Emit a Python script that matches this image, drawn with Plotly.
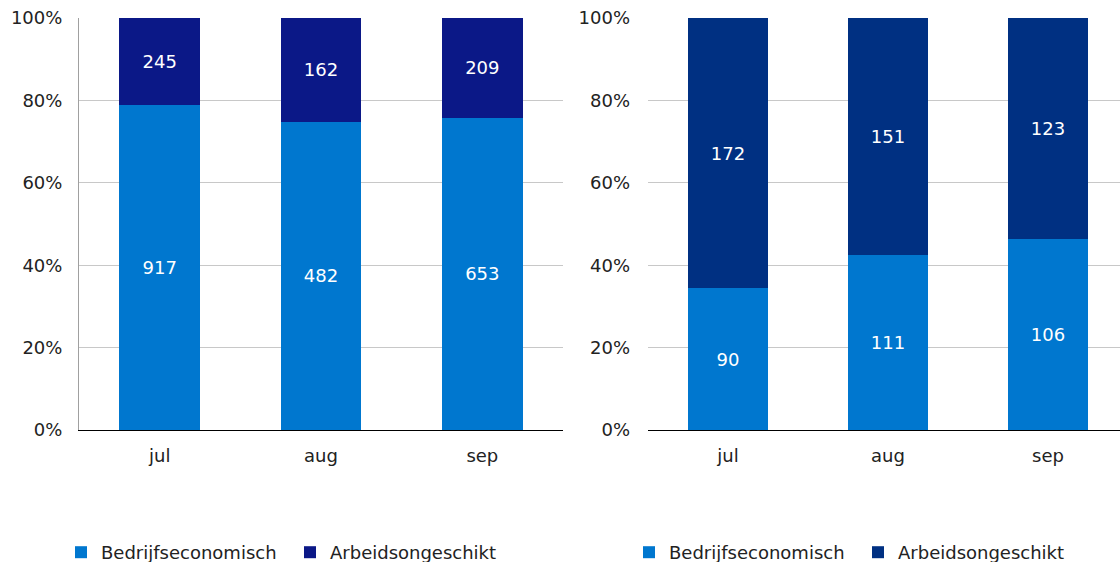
import plotly.graph_objects as go

months = ["jul", "aug", "sep"]
left_bedrijf = [917, 482, 653]
left_arbeid = [245, 162, 209]
right_bedrijf = [90, 111, 106]
right_arbeid = [172, 151, 123]
y_ticks = [0, 20, 40, 60, 80, 100]
y_ticklabels = ["0%", "20%", "40%", "60%", "80%", "100%"]

C_BED = "#0077CF"
C_ARB_L = "#0B1887"
C_ARB_R = "#003082"
FONT = "DejaVu Sans"
FS = 18

fig = go.Figure()

def add_pair(bed, arb, xa, ya, arb_color, legend):
    fig.add_trace(go.Bar(x=months, y=bed, name="Bedrijfseconomisch", marker_color=C_BED,
                         text=bed, textposition="inside", insidetextanchor="middle",
                         textfont=dict(color="white", size=FS, family=FONT),
                         xaxis=xa, yaxis=ya, legend=legend, width=0.5,
                         marker_line_width=0))
    fig.add_trace(go.Bar(x=months, y=arb, name="Arbeidsongeschikt", marker_color=arb_color,
                         text=arb, textposition="inside", insidetextanchor="middle",
                         textfont=dict(color="white", size=FS, family=FONT),
                         xaxis=xa, yaxis=ya, legend=legend, width=0.5,
                         marker_line_width=0))

add_pair(left_bedrijf, left_arbeid, "x", "y", C_ARB_L, "legend")
add_pair(right_bedrijf, right_arbeid, "x2", "y2", C_ARB_R, "legend2")

ydom = [(562 - 430) / 562, (562 - 18) / 562]
axis_font = dict(family=FONT, size=FS, color="#222222")

fig.update_layout(
    template="none",
    width=1120, height=562,
    margin=dict(l=0, r=0, t=0, b=0, pad=0, autoexpand=False),
    paper_bgcolor="white", plot_bgcolor="white",
    barmode="stack", barnorm="percent",
    font=dict(family=FONT, size=FS, color="#222222"),
    uniformtext=dict(minsize=8, mode="show"),
    xaxis=dict(domain=[79 / 1120, 563 / 1120], range=[-0.5, 2.5], showline=True,
               linecolor="#000000", linewidth=1, showgrid=False, ticks="",
               tickfont=axis_font, ticklabelstandoff=9, automargin=False, zeroline=False),
    yaxis=dict(domain=ydom, range=[0, 100], tickvals=y_ticks, ticktext=y_ticklabels,
               showgrid=True, gridcolor="#c8c8c8", gridwidth=1, showline=True,
               linecolor="#a0a0a0", linewidth=1, zeroline=False, ticks="",
               tickfont=axis_font, ticklabelstandoff=12, automargin=False),
    xaxis2=dict(domain=[648 / 1120, 1.0], range=[-0.5, 2.45], showline=True,
                linecolor="#000000", linewidth=1, showgrid=False, ticks="",
                tickfont=axis_font, ticklabelstandoff=9, anchor="y2", automargin=False,
                zeroline=False),
    yaxis2=dict(domain=ydom, range=[0, 100], tickvals=y_ticks, ticktext=y_ticklabels,
                showgrid=True, gridcolor="#c8c8c8", gridwidth=1, showline=False,
                zeroline=False, ticks="", tickfont=axis_font, ticklabelstandoff=17,
                anchor="x2", automargin=False),
    legend=dict(orientation="h", x=61 / 1120, xanchor="left", y=-9 / 562, yanchor="bottom",
                font=dict(family=FONT, size=FS, color="#222222"), bgcolor="rgba(0,0,0,0)",
                traceorder="normal", itemwidth=30, entrywidth=184),
    legend2=dict(orientation="h", x=629 / 1120, xanchor="left", y=-9 / 562, yanchor="bottom",
                 font=dict(family=FONT, size=FS, color="#222222"), bgcolor="rgba(0,0,0,0)",
                 traceorder="normal", itemwidth=30, entrywidth=184),
    showlegend=True,
)

fig.write_html("out.html", config={"displayModeBar": False},
               post_script="document.body.style.margin='0px';")
